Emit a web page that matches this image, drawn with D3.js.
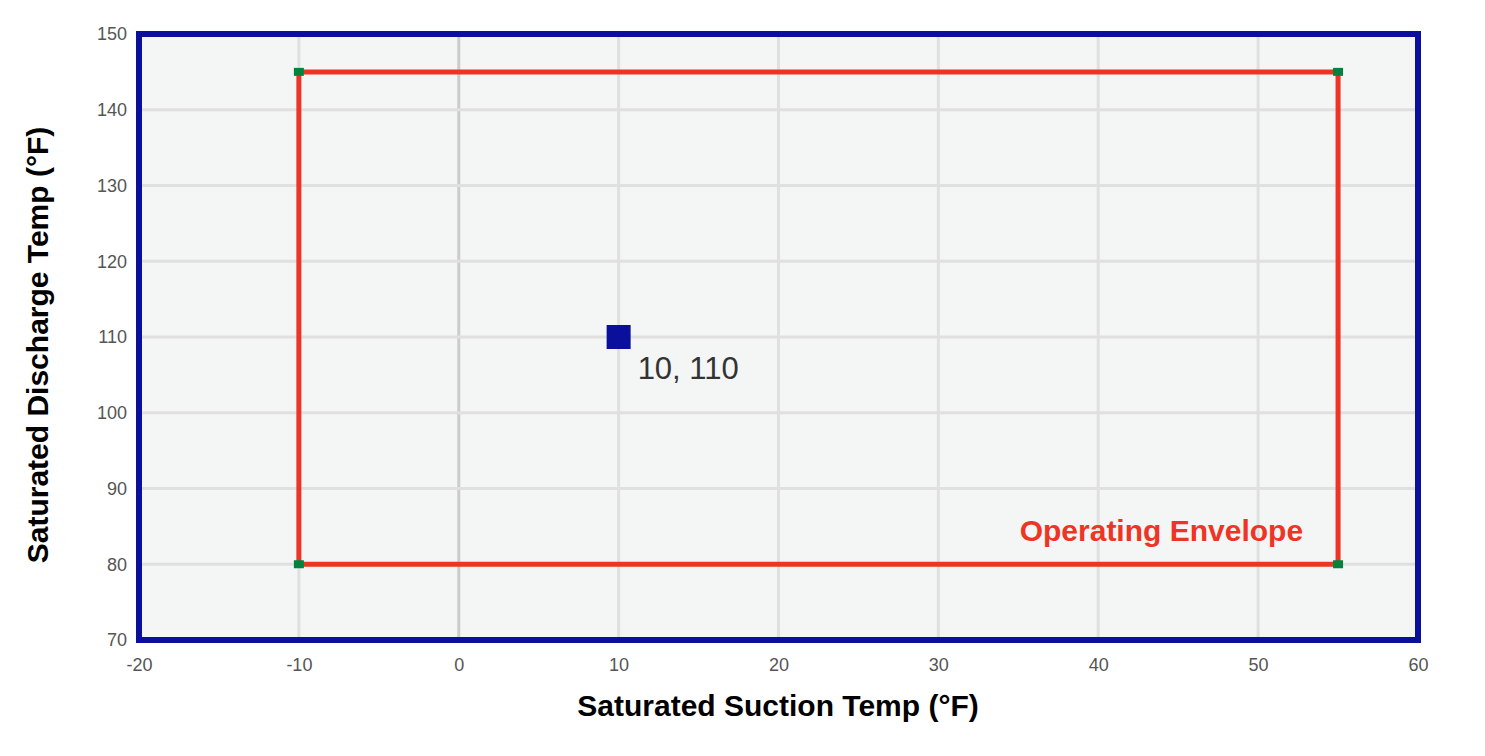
<!DOCTYPE html>
<html><head><meta charset="utf-8">
<script src="https://cdn.jsdelivr.net/npm/d3@7"></script>
<style>body{margin:0;background:#fff;font-family:Arial,"Liberation Sans",sans-serif}</style>
</head><body><svg id="chart" width="1485" height="756"></svg>
<script>
const xTicks = [-20, -10, 0, 10, 20, 30, 40, 50, 60];
const yTicks = [70, 80, 90, 100, 110, 120, 130, 140, 150];
const envelopeX = [-10, 55, 55, -10];
const envelopeY = [145, 145, 80, 80];
const pointX = [10];
const pointY = [110];
const envelopeLabel = "Operating Envelope";

const svg = d3.select("#chart");
const m = {left: 139, right: 1418, top: 34, bottom: 640};
const x = d3.scaleLinear().domain([-20, 60]).range([m.left, m.right]);
const y = d3.scaleLinear().domain([70, 150]).range([m.bottom, m.top]);

svg.append("rect").attr("x", m.left).attr("y", m.top)
    .attr("width", m.right - m.left).attr("height", m.bottom - m.top).attr("fill", "#f4f5f5");

// grid
svg.selectAll(".gx").data(xTicks).join("line")
    .attr("x1", d => x(d)).attr("x2", d => x(d)).attr("y1", m.top).attr("y2", m.bottom)
    .attr("stroke", d => d === 0 ? "#cccccc" : "#e0e0e0").attr("stroke-width", 3);
svg.selectAll(".gy").data(yTicks).join("line")
    .attr("y1", d => y(d)).attr("y2", d => y(d)).attr("x1", m.left).attr("x2", m.right)
    .attr("stroke", "#e0e0e0").attr("stroke-width", 3);

// axes labels
const xAxis = svg.append("g").attr("transform", `translate(0,${m.bottom})`)
    .call(d3.axisBottom(x).tickValues(xTicks).tickFormat(d => String(d)).tickSize(0).tickPadding(18));
const yAxis = svg.append("g").attr("transform", `translate(${m.left},0)`)
    .call(d3.axisLeft(y).tickValues(yTicks).tickFormat(d => String(d)).tickSize(0).tickPadding(12));
[xAxis, yAxis].forEach(a => {
    a.select(".domain").remove();
    a.selectAll("text").style("font-size", "18px").style("fill", "#555")
        .style("font-family", "Arial, 'Liberation Sans', sans-serif");
});

// envelope
const pts = envelopeX.map((d, i) => [x(d), y(envelopeY[i])]);
svg.append("polygon").attr("points", pts.map(p => p.join(",")).join(" "))
    .attr("fill", "none").attr("stroke", "#ee3424").attr("stroke-width", 5);
svg.selectAll(".corner").data(pts).join("rect")
    .attr("x", p => p[0] - 5).attr("y", p => p[1] - 4).attr("width", 10).attr("height", 8)
    .attr("fill", "#00843d");
svg.append("text").attr("x", x(55) - 35).attr("y", y(80) - 23).attr("text-anchor", "end")
    .attr("font-size", 30).attr("font-weight", "bold").attr("fill", "#ee3424").text(envelopeLabel);

// point
svg.selectAll(".pt").data(pointX).join("rect")
    .attr("x", (d) => x(d) - 12).attr("y", (d, i) => y(pointY[i]) - 12)
    .attr("width", 24).attr("height", 24).attr("fill", "#0a0f9c");
svg.selectAll(".ptl").data(pointX).join("text")
    .attr("x", d => x(d) + 19).attr("y", (d, i) => y(pointY[i]) + 42)
    .attr("font-size", 31).attr("fill", "#333").text((d, i) => `${d}, ${pointY[i]}`);

// border
svg.append("rect").attr("x", m.left).attr("y", m.top)
    .attr("width", m.right - m.left).attr("height", m.bottom - m.top)
    .attr("fill", "none").attr("stroke", "#0a0f9c").attr("stroke-width", 6);

svg.append("text").attr("x", 778).attr("y", 716).attr("text-anchor", "middle")
    .attr("font-size", 30).attr("font-weight", "bold").text("Saturated Suction Temp (°F)");
svg.append("text").attr("transform", `translate(48,345) rotate(-90)`)
    .attr("text-anchor", "middle").attr("font-size", 30).attr("font-weight", "bold")
    .text("Saturated Discharge Temp (°F)");
</script></body></html>
